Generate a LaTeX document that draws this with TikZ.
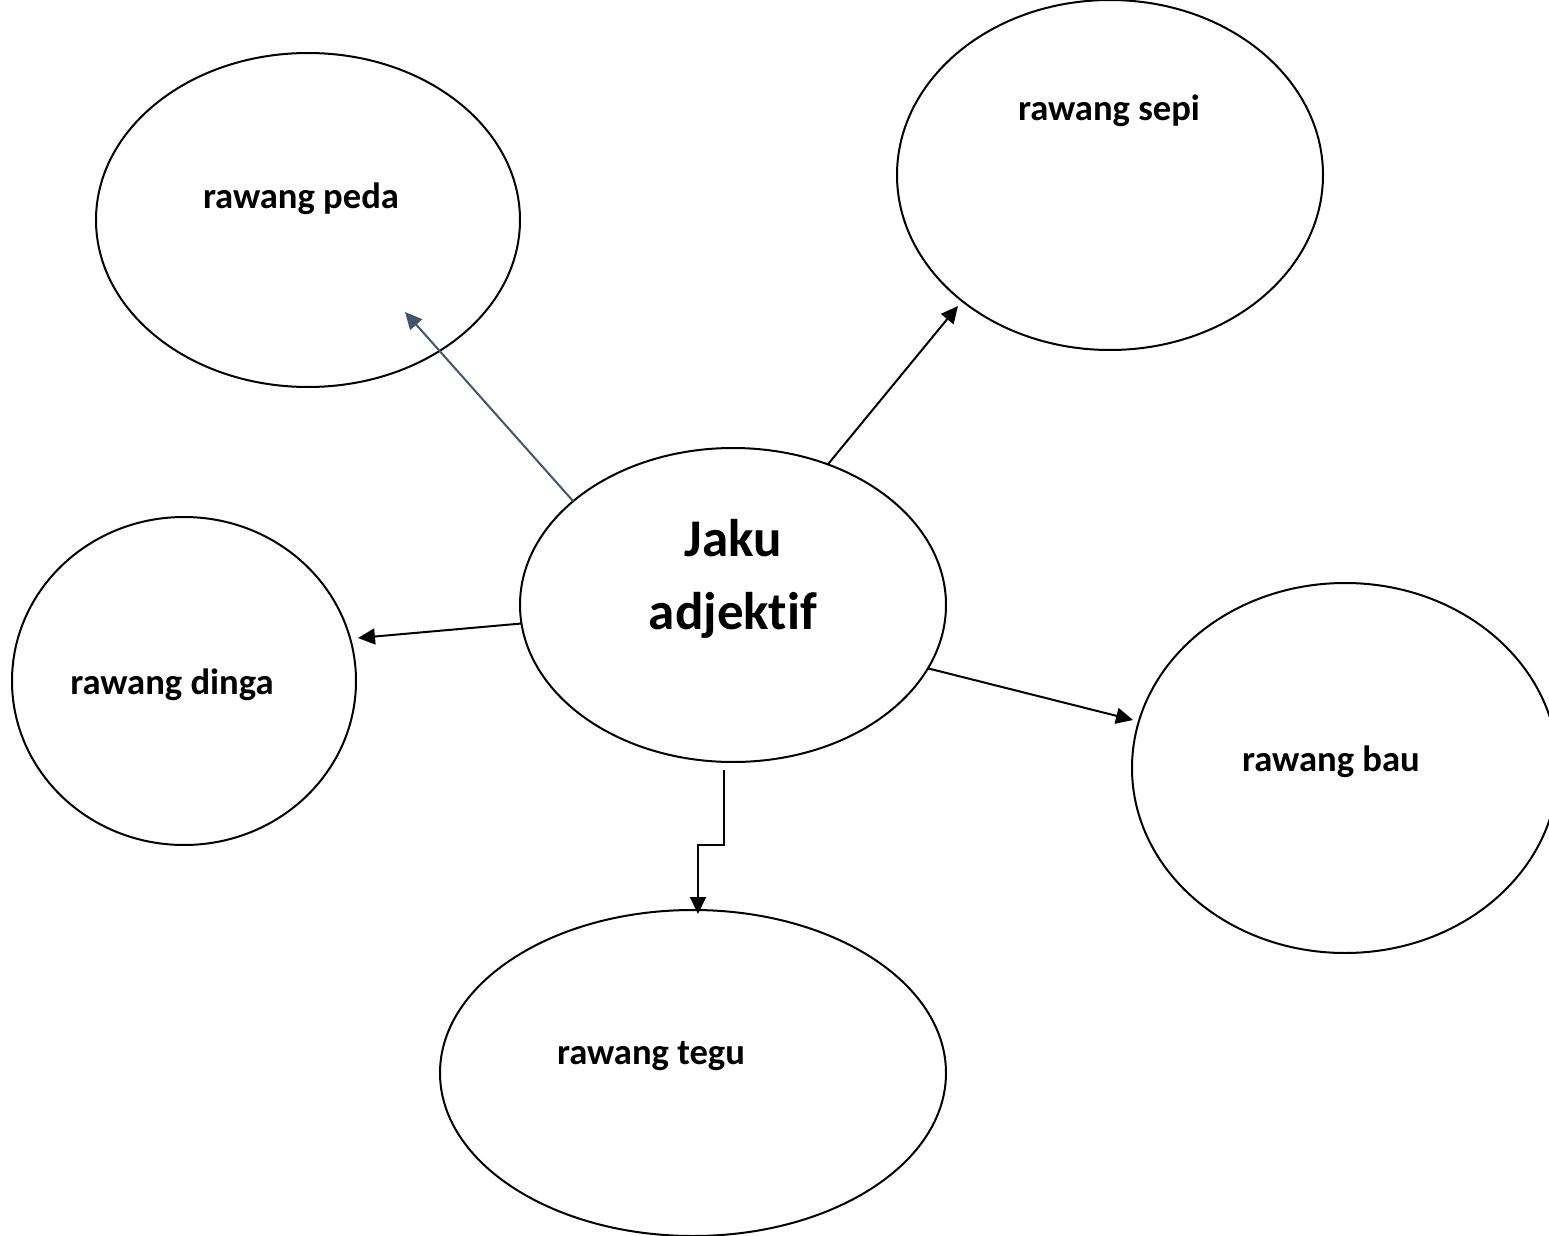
\documentclass[tikz,border=0pt]{standalone}
\usepackage{fontspec}
\setmainfont[Ligatures=NoCommon]{Carlito}
\usetikzlibrary{shapes.geometric,arrows.meta}
\definecolor{slate}{HTML}{44546A}
\tikzset{
  bubble/.style={draw, ellipse, line width=1pt, inner sep=0pt, outer sep=0pt},
  lbl/.style={font=\bfseries\fontsize{18.3}{22}\selectfont, inner sep=0pt},
  arr/.style={line width=1pt, -{Triangle[length=8.5pt,width=8pt]}}
}
\begin{document}
\begin{tikzpicture}[x=0.5pt,y=-0.5pt]
\useasboundingbox (0,0) rectangle (1549,1236);
% ellipses
\node[bubble, minimum width=212pt, minimum height=167pt] (peda) at (308,220) {};
\node[bubble, minimum width=213pt, minimum height=175pt] (sepi) at (1110,175) {};
\node[bubble, minimum width=213pt, minimum height=157pt] (jaku) at (733,605) {};
\node[bubble, minimum width=172pt, minimum height=164pt] (dinga) at (184,681) {};
\node[bubble, minimum width=213pt, minimum height=185pt] (bau) at (1345,768) {};
\node[bubble, minimum width=253pt, minimum height=163pt] (tegu) at (693,1073) {};
% labels
\node[lbl] (tpeda) at (301,199) {rawang peda};
\node[lbl] (tsepi) at (1109,111) {rawang sepi};
\node[lbl] (tdinga) at (172,685) {rawang dinga};
\node[lbl] (tbau) at (1331,762) {rawang bau};
\node[lbl] (ttegu) at (651,1056) {rawang tegu};
\node[font=\bfseries\fontsize{26.5}{36.5}\selectfont, align=center, inner sep=0pt] (tjaku) at (733,579) {Jaku\\adjektif};
% arrow end points
\coordinate (pedaEnd) at (405,312);
\coordinate (sepiEnd) at (958,306);
\coordinate (dingaEnd) at (358,638);
\coordinate (bauEnd) at (1133,720);
\coordinate (t0) at (724,770);
\coordinate (t1) at (724,845);
\coordinate (t2) at (698,845);
\coordinate (teguEnd) at (698,914);
% connectors
\draw[arr, color=slate] (jaku.147) -- (pedaEnd);
\draw[arr] (jaku.56) -- (sepiEnd);
\draw[arr] (jaku.185) -- (dingaEnd);
\draw[arr] (jaku.-18) -- (bauEnd);
\draw[arr] (t0) -- (t1) -- (t2) -- (teguEnd);
\end{tikzpicture}
\end{document}
